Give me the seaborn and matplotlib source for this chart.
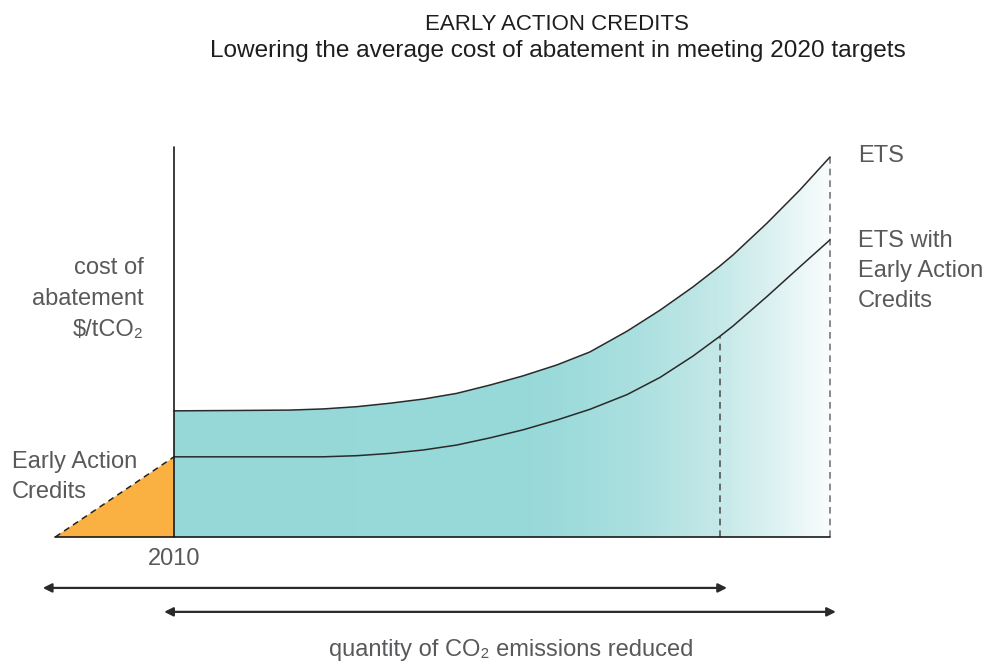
import numpy as np
import pandas as pd
import seaborn as sns
import matplotlib
matplotlib.use("Agg")
import matplotlib.pyplot as plt
from matplotlib.colors import LinearSegmentedColormap

# ---------------- data ----------------
quantity = [0, 10.1, 17.7, 22.7, 27.9, 32.9, 38.0, 43.1, 48.2, 53.2,
            58.4, 63.4, 69.1, 74.1, 79.1, 83.2, 85.2, 90.4, 95.4, 100]
ets_cost = [33.2, 33.3, 33.4, 33.7, 34.3, 35.2, 36.3, 37.8, 40.0, 42.4,
            45.3, 48.7, 54.2, 59.7, 65.8, 71.3, 74.2, 82.6, 91.3, 100]
eac_cost = [21.1, 21.1, 21.1, 21.1, 21.4, 22.0, 22.9, 24.2, 26.1, 28.2,
            30.8, 33.6, 37.5, 42.0, 47.6, 52.8, 55.5, 63.3, 71.1, 78.2]

credits_quantity = [-18.1, 0, 0]
credits_cost = [0, 0, 21.1]

target_quantity = 83.2      # 2020 target reached with early action credits
target_cost = 52.8
end_quantity = 100
end_cost = 100

axis_top = 102.6
eac_span = [-20.0, 84.3]
ets_span = [-1.5, 100.9]
year_label = "2010"

# ---------------- style ----------------
sns.set_theme(style="white")
FONT = ["Liberation Sans", "DejaVu Sans"]
plt.rcParams["font.family"] = FONT

W, H = 992, 668
fig = plt.figure(figsize=(W / 100, H / 100), dpi=100)
ax = fig.add_axes([0, 0, 1, 1])
XLIM = (-174 / 6.56, (W - 174) / 6.56)
YLIM = ((537 - H) / 3.8, 537 / 3.8)

df = pd.DataFrame({"quantity": quantity, "ETS": ets_cost, "ETS with EAC": eac_cost})

# gradient fill under the ETS curve
poly = ax.fill_between(df["quantity"], 0, df["ETS"], facecolor="none", edgecolor="none")
cmap = LinearSegmentedColormap.from_list(
    "teal_fade",
    [(0.0, "#96D8D8"), (0.55, "#98D9D9"), (0.70, "#AADFDF"),
     (0.83, "#C4E8E8"), (0.92, "#DEF2F2"), (1.0, "#F8FCFC")])
grad = np.linspace(0, 1, 400).reshape(1, -1)
im = ax.imshow(grad, cmap=cmap, aspect="auto", extent=[0, end_quantity, 0, end_cost + 1],
               origin="lower", zorder=1, interpolation="bilinear")
im.set_clip_path(poly.get_paths()[0], ax.transData)

# early action credits triangle
ax.fill(credits_quantity, credits_cost, color="#FBB042", zorder=2, lw=0)
ax.plot([credits_quantity[0], credits_quantity[2]], [credits_cost[0], credits_cost[2]],
        color="#222222", lw=1.1, dashes=(4, 3), zorder=3)

# curves
sns.lineplot(data=df, x="quantity", y="ETS", ax=ax, color="#2a2a2a", lw=1.1, sort=False, zorder=4)
sns.lineplot(data=df, x="quantity", y="ETS with EAC", ax=ax, color="#2a2a2a", lw=1.1, sort=False, zorder=4)

# dashed verticals
ax.plot([target_quantity, target_quantity], [0, target_cost], color="#555555",
        lw=1.2, dashes=(4, 3), zorder=3)
ax.plot([end_quantity, end_quantity], [0, end_cost], color="#777777",
        lw=1.2, dashes=(4, 3), zorder=3)

# axes lines
ax.plot([0, 0], [0, axis_top], color="#1a1a1a", lw=1.2, zorder=5)
ax.plot([credits_quantity[0], end_quantity], [0, 0], color="#1a1a1a", lw=1.2, zorder=5)

# arrows
arrow_kw = dict(arrowstyle="<|-|>", color="#2a2a2a", lw=1.6, mutation_scale=13,
                shrinkA=0, shrinkB=0)
ax.annotate("", xy=(eac_span[1], -13.4), xytext=(eac_span[0], -13.4), arrowprops=arrow_kw)
ax.annotate("", xy=(ets_span[1], -19.7), xytext=(ets_span[0], -19.7), arrowprops=arrow_kw)

ax.set_xlim(*XLIM)
ax.set_ylim(*YLIM)
ax.set_axis_off()

# ---------------- text ----------------
def fx(px):
    return px / W

def fy(py):
    return 1 - py / H

GRAY = "#58595B"
fig.text(fx(557), fy(30), "EARLY ACTION CREDITS", ha="center", va="baseline",
         fontsize=16, color="#1e1e1e")
fig.text(fx(557.5), fy(57), "Lowering the average cost of abatement in meeting 2020 targets",
         ha="center", va="baseline", fontsize=17.6, color="#1e1e1e")

fig.text(fx(858), fy(162), "ETS", ha="left", va="baseline", fontsize=17, color=GRAY)
for line, b in zip(["ETS with", "Early Action", "Credits"], [247, 277, 307]):
    fig.text(fx(858), fy(b), line, ha="left", va="baseline", fontsize=17, color=GRAY)

for line, b in zip(["cost of", "abatement", "$/tCO₂"], [274, 305, 336]):
    fig.text(fx(144), fy(b), line, ha="right", va="baseline", fontsize=17, color=GRAY)

for line, b in zip(["Early Action", "Credits"], [468, 498]):
    fig.text(fx(12), fy(b), line, ha="left", va="baseline", fontsize=17, color=GRAY)

fig.text(fx(174), fy(565), year_label, ha="center", va="baseline", fontsize=17, color=GRAY)
fig.text(fx(511), fy(656), "quantity of CO₂ emissions reduced", ha="center", va="baseline",
         fontsize=17, color=GRAY)

fig.savefig("out.png", dpi=100)
